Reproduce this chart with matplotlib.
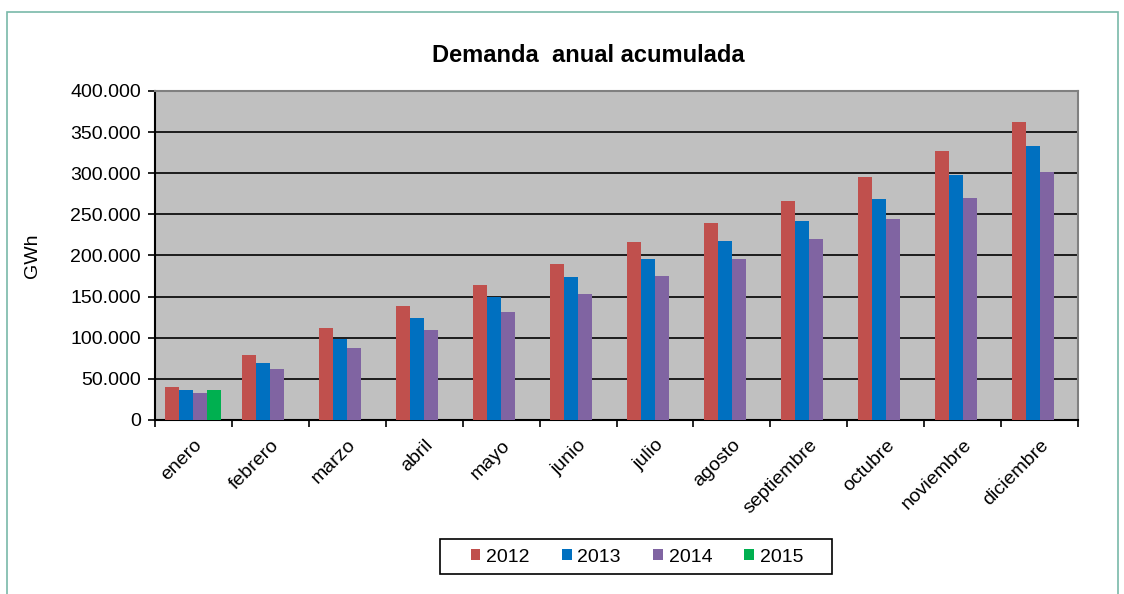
import matplotlib.pyplot as plt
import numpy as np
from matplotlib.patches import Rectangle
from matplotlib.ticker import FuncFormatter, FixedLocator

plt.rcParams['font.family'] = ['Liberation Sans', 'DejaVu Sans']

months = ["enero", "febrero", "marzo", "abril", "mayo", "junio",
          "julio", "agosto", "septiembre", "octubre", "noviembre", "diciembre"]
years = ["2012", "2013", "2014", "2015"]
d2012 = [39700, 78600, 111500, 138700, 164200, 190100,
         216000, 240000, 266200, 295900, 327600, 362600]
d2013 = [36100, 68900, 98500, 124100, 150000, 174000,
         195400, 217800, 242200, 268300, 297900, 332900]
d2014 = [32400, 61600, 87500, 109000, 131400, 153300,
         175200, 195900, 219900, 244300, 270200, 301600]
d2015 = [36500] + [np.nan] * 11
colors = ["#c0504d", "#0070c0", "#8064a2", "#00b050"]

W, H = 1124, 594
fig = plt.figure(figsize=(W / 100, H / 100), dpi=100)
# outer chart border
fig.patches.append(Rectangle((7 / W, -0.1), (1118 - 7) / W, 1.1 - 12 / H,
                             transform=fig.transFigure, fill=False,
                             edgecolor="#79b9a9", linewidth=1.2))
# legend box
fig.patches.append(Rectangle((440 / W, (H - 574) / H), 392 / W, 35 / H,
                             transform=fig.transFigure, fill=False,
                             edgecolor="black", linewidth=1.2))

ax = fig.add_axes([155 / W, (H - 420) / H, 923 / W, 329 / H])
ax.set_facecolor("#c0c0c0")

x = np.arange(len(months))
bw = 0.182
for i, (yr, vals) in enumerate(zip(years, [d2012, d2013, d2014, d2015])):
    ax.bar(x + (i - 1.5) * bw, vals, width=bw, color=colors[i], label=yr,
           zorder=3)

ax.set_xlim(-0.5, len(months) - 0.5)
ax.set_ylim(0, 400000)
ax.set_yticks(np.arange(0, 400001, 50000))
ax.yaxis.set_major_formatter(FuncFormatter(lambda v, p: f"{int(v):,}".replace(",", ".")))
ax.grid(axis="y", color="black", linewidth=1.2, zorder=1)
ax.set_axisbelow(True)

# ticks at category boundaries, labels at centres
ax.xaxis.set_major_locator(FixedLocator(np.arange(-0.5, len(months), 1.0)))
ax.xaxis.set_major_formatter(FuncFormatter(lambda v, p: ""))
ax.set_xticks(x, minor=True)
ax.set_xticklabels(months, minor=True, rotation=45, ha="right", va="top",
                   rotation_mode="anchor", fontsize=14)
ax.tick_params(axis="x", which="minor", length=0, pad=12)
ax.tick_params(axis="x", which="major", length=5, width=1.2, direction="out")
ax.tick_params(axis="y", length=5, width=1.2, direction="out", labelsize=14, pad=5)

for side in ["left", "bottom"]:
    ax.spines[side].set_color("black")
    ax.spines[side].set_linewidth(1.5)
for side in ["top", "right"]:
    ax.spines[side].set_color("#808080")
    ax.spines[side].set_linewidth(1.5)

ax.set_ylabel("GWh", fontsize=14)
ax.yaxis.set_label_coords(-0.123, 0.5)
fig.text(588 / W, 1 - 55 / H, "Demanda  anual acumulada", ha="center",
         va="center", fontsize=17, fontweight="bold")

fig.legend(loc="center", bbox_to_anchor=(637 / W, (H - 557) / H), ncol=4,
           fontsize=14, frameon=False,
           handlelength=0.5, handleheight=0.5, handletextpad=0.3,
           columnspacing=1.65)

fig.savefig("out.png", dpi=100)
